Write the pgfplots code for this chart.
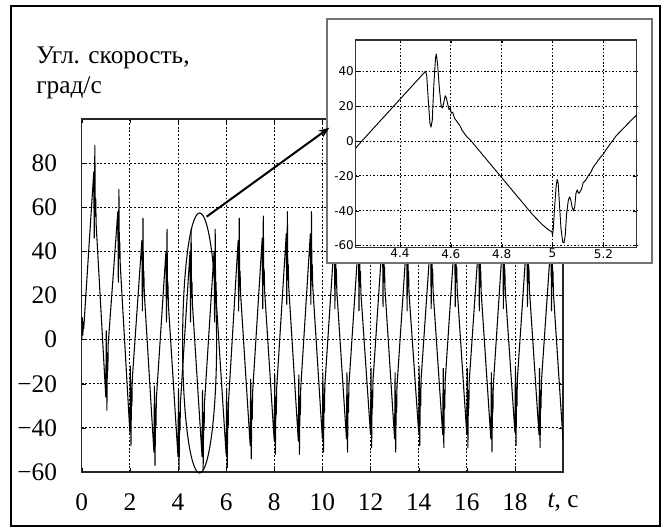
\documentclass[border=0pt]{standalone}
\usepackage{fontspec}
\setmainfont{Liberation Serif}
\newfontfamily\insetfont{DejaVu Sans}
\usepackage{pgfplots}
\pgfplotsset{compat=1.18}
\usetikzlibrary{arrows.meta}
\begin{document}
\begin{tikzpicture}
\fill[white] (0,0) rectangle (498.75pt,396pt);
\draw[line width=1.6pt] (8.25pt,1.5pt) rectangle (495pt,391.5pt);
\node[anchor=base west, align=left, inner sep=0pt, font=\fontsize{19}{23}\selectfont] at (27pt,325.5pt) {Угл. скорость,\\град/с};
\begin{axis}[
  at={(61.3pt,42pt)}, anchor=south west,
  scale only axis, width=361pt, height=264.75pt,
  xmin=0, xmax=20, ymin=-60, ymax=100,
  enlargelimits=false,
  xtick={0,2,...,20},
  xticklabels={0,2,4,6,8,10,12,14,16,18,{\textit{t}, с}},
  ytick={-60,-40,...,80},
  yticklabels={−60,−40,−20,0,20,40,60,80},
  grid=major,
  major grid style={black, line width=0.65pt, dash pattern=on 1.4pt off 1.4pt},
  axis line style={black!85, line width=1pt},
  tick align=inside, major tick length=3pt, tick style={black},
  ticklabel style={font=\fontsize{19}{23}\selectfont},
  xticklabel style={yshift=-12.5pt},
  yticklabel style={xshift=-15pt},
  /pgf/number format/assume math mode=true,
]
\addplot[black, line width=0.8pt, line join=round, mark=none] coordinates {
(0,0) (0.02,10) (0.045,2) (0.07,8) (0.085,5) (0.1,8) (0.5,76) (0.52,46) (0.545,88) (0.565,56) (0.58,64) (0.6,52)
(1,-26) (1.02,4) (1.045,-32) (1.07,-6) (1.085,-14) (1.1,-2) (1.5,58) (1.52,26) (1.545,68) (1.565,37) (1.58,44) (1.6,34)
(2,-42) (2.02,-12) (2.045,-48) (2.07,-22) (2.085,-30) (2.1,-18) (2.5,45) (2.52,13) (2.545,55) (2.565,24) (2.58,31) (2.6,21)
(3,-51) (3.02,-21) (3.045,-57) (3.07,-31) (3.085,-39) (3.1,-27) (3.5,40) (3.52,8) (3.545,50) (3.565,19) (3.58,26) (3.6,16)
(4,-53) (4.02,-23) (4.045,-59) (4.07,-33) (4.085,-41) (4.1,-29) (4.5,40) (4.52,8) (4.545,50) (4.565,19) (4.58,26) (4.6,16)
(5,-53) (5.02,-23) (5.045,-59) (5.07,-33) (5.085,-41) (5.1,-29) (5.5,40) (5.52,8) (5.545,50) (5.565,19) (5.58,26) (5.6,16)
(6,-52) (6.02,-22) (6.045,-58) (6.07,-32) (6.085,-40) (6.1,-28) (6.5,45) (6.52,13) (6.545,55) (6.565,24) (6.58,31) (6.6,21)
(7,-48) (7.02,-18) (7.045,-54) (7.07,-28) (7.085,-36) (7.1,-24) (7.5,46) (7.52,14) (7.545,56) (7.565,25) (7.58,32) (7.6,22)
(8,-46) (8.02,-16) (8.045,-52) (8.07,-26) (8.085,-34) (8.1,-22) (8.5,48) (8.52,16) (8.545,58) (8.565,27) (8.58,34) (8.6,24)
(9,-46) (9.02,-16) (9.045,-52) (9.07,-26) (9.085,-34) (9.1,-22) (9.5,48) (9.52,16) (9.545,58) (9.565,27) (9.58,34) (9.6,24)
(10,-45) (10.02,-15) (10.045,-51) (10.07,-25) (10.085,-33) (10.1,-21) (10.5,46) (10.52,14) (10.545,56) (10.565,25) (10.58,32) (10.6,22)
(11,-45) (11.02,-15) (11.045,-51) (11.07,-25) (11.085,-33) (11.1,-21) (11.5,45) (11.52,13) (11.545,55) (11.565,24) (11.58,31) (11.6,21)
(12,-43) (12.02,-13) (12.045,-49) (12.07,-23) (12.085,-31) (12.1,-19) (12.5,47) (12.52,15) (12.545,57) (12.565,26) (12.58,33) (12.6,23)
(13,-45) (13.02,-15) (13.045,-51) (13.07,-25) (13.085,-33) (13.1,-21) (13.5,45) (13.52,13) (13.545,55) (13.565,24) (13.58,31) (13.6,21)
(14,-42) (14.02,-12) (14.045,-48) (14.07,-22) (14.085,-30) (14.1,-18) (14.5,46) (14.52,14) (14.545,56) (14.565,25) (14.58,32) (14.6,22)
(15,-43) (15.02,-13) (15.045,-49) (15.07,-23) (15.085,-31) (15.1,-19) (15.5,47) (15.52,15) (15.545,57) (15.565,26) (15.58,33) (15.6,23)
(16,-43) (16.02,-13) (16.045,-49) (16.07,-23) (16.085,-31) (16.1,-19) (16.5,45) (16.52,13) (16.545,55) (16.565,24) (16.58,31) (16.6,21)
(17,-45) (17.02,-15) (17.045,-51) (17.07,-25) (17.085,-33) (17.1,-21) (17.5,46) (17.52,14) (17.545,56) (17.565,25) (17.58,32) (17.6,22)
(18,-42) (18.02,-12) (18.045,-48) (18.07,-22) (18.085,-30) (18.1,-18) (18.5,47) (18.52,15) (18.545,57) (18.565,26) (18.58,33) (18.6,23)
(19,-43) (19.02,-13) (19.045,-49) (19.07,-23) (19.085,-31) (19.1,-19) (19.5,45) (19.52,13) (19.545,55) (19.565,24) (19.58,31) (19.6,21)
(20,-46)
};
\end{axis}
% ellipse around t = 5
\draw[black, line width=0.8pt] (149.7pt,138.75pt) ellipse [x radius=12.75pt, y radius=97.5pt];
% inset frame
\draw[black!55, line width=0.8pt, fill=white] (245.25pt,198.75pt) rectangle (489pt,381.75pt);
\begin{axis}[
  at={(266.8pt,210.5pt)}, anchor=south west,
  scale only axis, width=210.75pt, height=155.5pt,
  xmin=4.226, xmax=5.331, ymin=-61, ymax=58,
  enlargelimits=false,
  xtick={4.4,4.6,4.8,5,5.2},
  xticklabels={4.4,4.6,4.8,5,5.2},
  ytick={-60,-40,...,40},
  yticklabels={-60,-40,-20,0,20,40},
  grid=major,
  major grid style={black, line width=0.65pt, dash pattern=on 1.2pt off 1.4pt},
  axis line style={black!80, line width=0.8pt},
  tick align=inside, major tick length=2.5pt, tick style={black},
  ticklabel style={font=\insetfont\fontsize{9}{10}\selectfont, inner sep=1.2pt},
  /pgf/number format/assume math mode=true,
]
\addplot[black, line width=0.7pt, line join=round, mark=none] coordinates {
(4.226,-4) (4.25,0) (4.30,8) (4.35,16) (4.40,24) (4.45,32) (4.50,40)
(4.505,38) (4.512,22) (4.518,10) (4.522,8) (4.527,12) (4.533,32) (4.540,48) (4.543,50)
(4.548,44) (4.555,30) (4.562,20) (4.567,19) (4.572,22) (4.578,26) (4.582,25) (4.588,21)
(4.593,18) (4.597,19) (4.602,16) (4.607,16.5) (4.615,13) (4.625,11) (4.635,9) (4.645,6)
(4.66,3) (4.68,0) (4.70,-3.5) (4.72,-7) (4.74,-10.5) (4.76,-14) (4.78,-17.5) (4.80,-21)
(4.82,-24.5) (4.84,-28) (4.86,-31.5) (4.88,-35) (4.90,-38.5) (4.92,-42) (4.94,-45)
(4.96,-48) (4.98,-50.5) (4.99,-51.5) (4.997,-52) (5.0,-54)
(5.003,-50) (5.008,-38) (5.014,-26) (5.018,-22) (5.022,-24) (5.027,-36) (5.033,-50)
(5.04,-58) (5.045,-58.5) (5.05,-54) (5.055,-42) (5.062,-34) (5.067,-32) (5.072,-34)
(5.077,-38) (5.082,-40) (5.087,-38) (5.092,-30) (5.097,-28) (5.102,-30) (5.107,-29.5)
(5.115,-27) (5.12,-24) (5.13,-22.5) (5.14,-20) (5.15,-18) (5.16,-15) (5.17,-13)
(5.18,-11) (5.19,-9) (5.20,-7.5) (5.21,-5) (5.22,-3) (5.235,0) (5.25,3) (5.27,6)
(5.29,9) (5.31,12) (5.331,15)
};
\end{axis}
% arrow from ellipse to inset
\draw[black, line width=1.5pt, -{Stealth[length=8pt, width=6pt]}] (155pt,233.5pt) -- (247pt,300.2pt);
\pgfresetboundingbox
\path[use as bounding box] (0,0) rectangle (498.75pt,396pt);
\end{tikzpicture}
\end{document}
